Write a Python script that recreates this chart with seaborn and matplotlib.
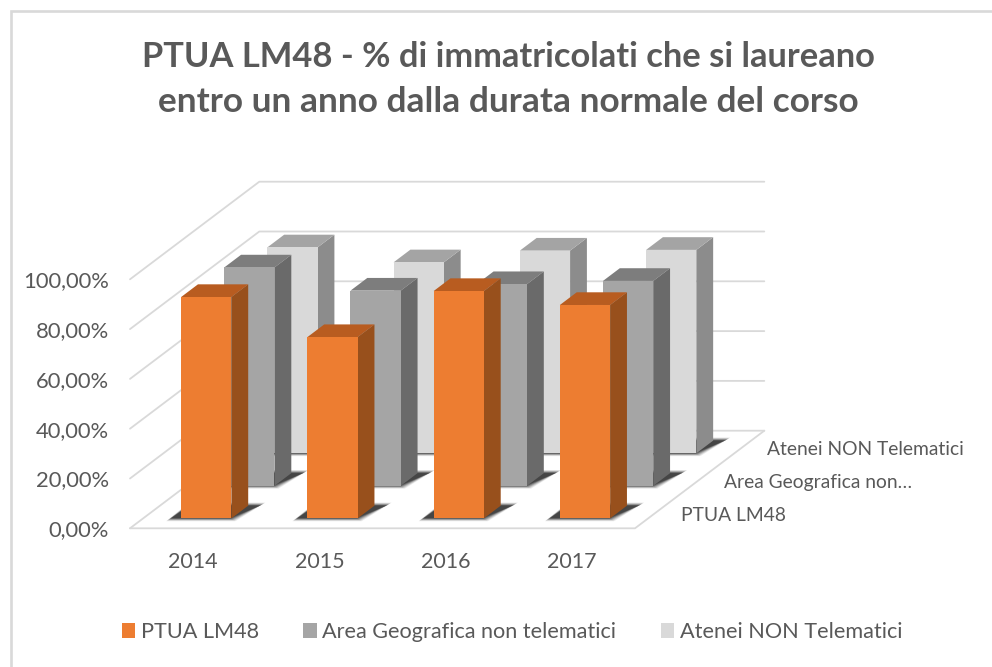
import numpy as np
import pandas as pd
import matplotlib
matplotlib.use("Agg")
import matplotlib.pyplot as plt
from matplotlib.patches import Polygon
from matplotlib.lines import Line2D
import seaborn as sns

years = ["2014", "2015", "2016", "2017"]
ptua = [88.9, 72.8, 91.3, 85.7]
area = [87.7, 78.4, 81.0, 82.3]
atenei = [82.7, 76.7, 81.4, 81.7]
series_names = ["PTUA LM48", "Area Geografica non telematici", "Atenei NON Telematici"]
depth_labels = ["PTUA LM48", "Area Geografica non…", "Atenei NON Telematici"]
y_ticks = [0, 20, 40, 60, 80, 100]
y_labels = ["0,00%", "20,00%", "40,00%", "60,00%", "80,00%", "100,00%"]
title_lines = ["PTUA LM48 - % di immatricolati che si laureano",
               "entro un anno dalla durata normale del corso"]
front_colors = ["#ED7D31", "#A5A5A5", "#D9D9D9"]
side_colors = ["#98501C", "#6A6A6A", "#8C8C8C"]
top_colors = ["#B85C20", "#7D7D7D", "#A4A4A4"]

W, H = 992, 667
sns.set_theme(style="white")
plt.rcParams["font.family"] = ["Lato", "DejaVu Sans"]
TXT = "#595959"
GRID = "#D9D9D9"

fig = plt.figure(figsize=(W / 100, H / 100), dpi=100, facecolor="white")
L, R, Y0, Y100 = 130, 635, 528.3, 279.3
ax = fig.add_axes([L / W, 1 - Y0 / H, (R - L) / W, (Y0 - Y100) / H])
PX = 4 / (R - L)               # data-x per pixel
PY = 100 / (Y0 - Y100)         # data-y per pixel
DX, DY = 129.3 * PX, 97.6 * PY # full depth vector
BAR_W = 0.398
BAR_D = 0.13
X0, X1 = -0.5, 3.5

# frame: only the top and left edges are inside the picture
fig.add_artist(Line2D([10.5 / W, 10.5 / W, 1], [0, 1 - 11 / H, 1 - 11 / H], color=GRID, lw=1.9,
                      transform=fig.transFigure, solid_joinstyle="miter"))

# walls & floor
for t in y_ticks:
    ax.add_line(Line2D([X0, X0 + DX, X1 + DX], [t, t + DY, t + DY], color=GRID, lw=1.3, clip_on=False, zorder=0.5))
ax.add_line(Line2D([X0, X1, X1 + DX], [0, 0, DY], color=GRID, lw=1.3, clip_on=False, zorder=0.5))

rows = [ptua, area, atenei]
for r in [2, 1, 0]:
    d = (r + 0.305) / 3
    xoff, yoff = d * DX, d * DY
    z = 3 + (2 - r)
    xpos = np.arange(len(years)) + xoff
    df = pd.DataFrame({"x": xpos, "y": rows[r]})
    # floor shadows
    for xc in xpos:
        xl, xr = xc - BAR_W / 2, xc + BAR_W / 2
        for g, a in zip([3, 2, 1, 0, -1, -2], [0.10, 0.15, 0.20, 0.28, 0.38, 0.45]):
            pts = [(xl + (-12 - g) * PX, yoff - (1 + g * 0.6) * PY),
                   (xr + (1 + g) * PX, yoff - (1 + g * 0.6) * PY),
                   (xr + (31 + g) * PX, yoff + (14 + g * 0.6) * PY),
                   (xl + 8 * PX, yoff + (14 + g * 0.6) * PY)]
            ax.add_patch(Polygon(pts, closed=True, fc="#262626", ec="none", alpha=a,
                                 clip_on=False, zorder=z - 0.5))
    sns.barplot(data=df, x="x", y="y", native_scale=True, width=BAR_W, color=front_colors[r],
                saturation=1, errorbar=None, ax=ax, bottom=yoff, clip_on=False, zorder=z + 0.2,
                linewidth=0)
    # 3D faces
    dx, dy = BAR_D * DX, BAR_D * DY
    for xc, v in zip(xpos, rows[r]):
        xl, xr = xc - BAR_W / 2, xc + BAR_W / 2
        top = yoff + v
        ax.add_patch(Polygon([(xr, yoff), (xr + dx, yoff + dy), (xr + dx, top + dy), (xr, top)],
                             closed=True, fc=side_colors[r], ec="none", clip_on=False, zorder=z + 0.1))
        ax.add_patch(Polygon([(xl, top), (xr, top), (xr + dx, top + dy), (xl + dx, top + dy)],
                             closed=True, fc=top_colors[r], ec="none", clip_on=False, zorder=z + 0.1))

ax.set_xlim(X0, X1)
ax.set_ylim(0, 100)
ax.set_xticks(range(len(years)), years)
ax.set_yticks(y_ticks, y_labels)
ax.set_xlabel("")
ax.set_ylabel("")
ax.tick_params(axis="x", length=0, labelsize=15.5, labelcolor=TXT, pad=17)
ax.tick_params(axis="y", length=0, labelsize=15.8, labelcolor=TXT, pad=15)
for s in ax.spines.values():
    s.set_visible(False)
ax.set_facecolor("none")

# depth axis labels
for r, lab in enumerate(depth_labels):
    d = (r + 0.5) / 3
    ax.text(X1 + d * DX + 24 * PX, d * DY - 3 * PY, lab, ha="left", va="center",
            fontsize=13.9, color=TXT, clip_on=False)

for line, base, size in zip(title_lines, [67, 112], [24.8, 25.4]):
    fig.text(508 / W, 1 - base / H, line, ha="center", va="baseline", fontsize=size,
             fontweight="bold", color=TXT)

handles = [plt.Rectangle((0, 0), 1, 1, fc=c, ec="none") for c in front_colors]
fig.legend(handles, series_names, loc="center", bbox_to_anchor=(512 / W, 1 - 632 / H), ncol=3,
           frameon=False, fontsize=15.6, labelcolor=TXT, handlelength=0.62, handleheight=0.75,
           handletextpad=0.25, columnspacing=2.05, borderpad=0)

fig.savefig("out.png", dpi=100, facecolor="white")
